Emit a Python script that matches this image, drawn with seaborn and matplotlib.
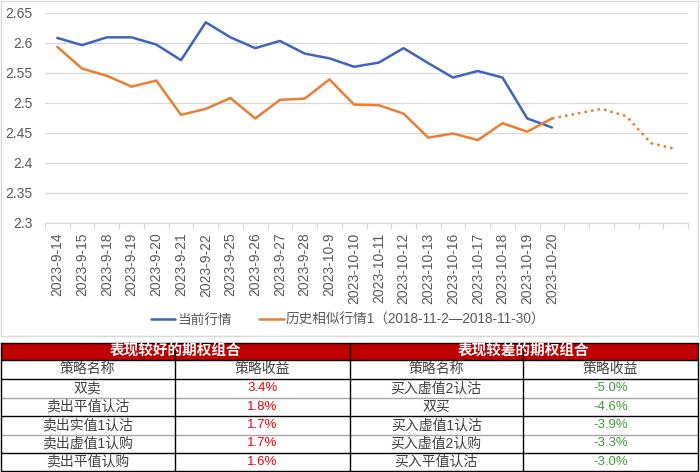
import matplotlib
matplotlib.use("Agg")
import matplotlib.pyplot as plt
import numpy as np
import pandas as pd
import seaborn as sns
from matplotlib.patches import Rectangle

# --- data ---
dates = ["2023-9-14", "2023-9-15", "2023-9-18", "2023-9-19", "2023-9-20",
         "2023-9-21", "2023-9-22", "2023-9-25", "2023-9-26", "2023-9-27",
         "2023-9-28", "2023-10-9", "2023-10-10", "2023-10-11", "2023-10-12",
         "2023-10-13", "2023-10-16", "2023-10-17", "2023-10-18", "2023-10-19",
         "2023-10-20"]
n_future = 5  # empty categories for the projection

current = [2.608, 2.596, 2.609, 2.609, 2.597, 2.571, 2.634, 2.609, 2.591,
           2.603, 2.582, 2.574, 2.560, 2.567, 2.591, 2.566, 2.542, 2.553,
           2.542, 2.474, 2.459]
history = [2.593, 2.557, 2.545, 2.527, 2.537, 2.480, 2.490, 2.508, 2.474,
           2.505, 2.507, 2.539, 2.497, 2.496, 2.482, 2.442, 2.449, 2.438,
           2.466, 2.452, 2.474]
history_proj = [2.474, 2.482, 2.490, 2.478, 2.433, 2.423]

label_current = "当前行情"
label_history = "历史相似行情1（2018-11-2—2018-11-30）"

good_title = "表现较好的期权组合"
bad_title = "表现较差的期权组合"
col_names = ["策略名称", "策略收益"]
good_names = ["双卖", "卖出平值认沽", "卖出实值1认沽", "卖出虚值1认购", "卖出平值认购"]
good_returns = ["3.4%", "1.8%", "1.7%", "1.7%", "1.6%"]
bad_names = ["买入虚值2认沽", "双买", "买入虚值1认沽", "买入虚值2认购", "买入平值认沽"]
bad_returns = ["-5.0%", "-4.6%", "-3.9%", "-3.3%", "-3.0%"]

# --- style ---
sns.set_theme(style="white")
plt.rcParams["font.family"] = ["Liberation Sans", "Noto Sans CJK SC", "DejaVu Sans"]

BLUE = "#3F64C0"
ORANGE = "#ED7D31"
GRID = "#D9D9D9"
TXT = "#595959"

fig = plt.figure(figsize=(7, 4.72), dpi=100)
ax = fig.add_axes([45 / 700, 1 - 223 / 472, 643 / 700, 210.3 / 472])

n = len(dates) + n_future
x_all = np.arange(n)
df_cur = pd.DataFrame({"x": x_all[:len(current)], "y": current})
df_his = pd.DataFrame({"x": x_all[:len(history)], "y": history})
df_proj = pd.DataFrame({"x": x_all[len(history) - 1:len(history) - 1 + len(history_proj)],
                        "y": history_proj})

sns.lineplot(data=df_cur, x="x", y="y", ax=ax, color=BLUE, linewidth=1.8,
             label=label_current)
sns.lineplot(data=df_his, x="x", y="y", ax=ax, color=ORANGE, linewidth=1.8,
             label=label_history)
sns.lineplot(data=df_proj, x="x", y="y", ax=ax, color=ORANGE, linewidth=1.8,
             linestyle=":", label="_nolegend_")

ax.set_xlim(-0.5, n - 0.5)
ax.set_ylim(2.3, 2.65)
yt = np.round(np.arange(2.3, 2.651, 0.05), 2)
ax.set_yticks(yt)
ax.set_yticklabels([f"{v:g}" for v in yt])
ax.set_xticks(x_all)
ax.set_xticklabels(dates + [""] * n_future, rotation=90)
ax.set_xticks(np.arange(-0.5, n), minor=True)
ax.tick_params(axis="x", which="major", length=0, pad=7, labelsize=10, colors=TXT)
ax.tick_params(axis="x", which="minor", length=4, width=0.8, color=GRID, bottom=True)
ax.tick_params(axis="y", length=0, pad=9, labelsize=10, colors=TXT)
ax.set_xlabel("")
ax.set_ylabel("")
ax.grid(axis="y", color=GRID, linewidth=0.9)
ax.grid(axis="x", visible=False)
for s in ["left", "right", "top"]:
    ax.spines[s].set_visible(False)
ax.spines["bottom"].set_color(GRID)
ax.spines["bottom"].set_linewidth(0.9)

if ax.get_legend() is not None:
    ax.get_legend().remove()
handles, labels = ax.get_legend_handles_labels()
fig.legend(handles, labels, loc="center", bbox_to_anchor=(0.497, 1 - 320 / 472),
           ncol=2, frameon=False, fontsize=9.8, labelcolor=TXT,
           handlelength=1.8, handletextpad=0.15, columnspacing=2.0)

# --- overlay axes in pixel coordinates for the border and the table ---
ov = fig.add_axes([0, 0, 1, 1], facecolor="none")
ov.set_xlim(0, 700)
ov.set_ylim(472, 0)
ov.axis("off")
ov.add_patch(Rectangle((0.5, 0.5), 697.5, 335.5, fill=False, edgecolor=GRID, linewidth=1))

top, head_bot = 343, 360
row_edges = [360, 379, 397.5, 416, 434.5, 452.5, 471]
x_edges = [0.5, 175, 349.5, 523, 698]

ov.add_patch(Rectangle((0.5, top), 697.5, head_bot - top, facecolor="#C00000",
                       edgecolor="none"))
ov.text(175, (top + head_bot) / 2, good_title, color="white", fontsize=10.5,
        fontweight="bold", ha="center", va="center")
ov.text(523, (top + head_bot) / 2, bad_title, color="white", fontsize=10.5,
        fontweight="bold", ha="center", va="center")

# horizontal rules
gray_rows = {397.5, 434.5}
ov.plot([0.5, 698], [top, top], color="black", lw=1)
for y in row_edges:
    c = "#A6A6A6" if y in gray_rows else "black"
    ov.plot([0.5, 698], [y, y], color=c, lw=1)
# vertical rules
for x in x_edges:
    ov.plot([x, x], [top, 471], color="black", lw=1)

cx = [(x_edges[i] + x_edges[i + 1]) / 2 for i in range(4)]
ymid = [(row_edges[i] + row_edges[i + 1]) / 2 for i in range(len(row_edges) - 1)]
body = "#404040"
for j, name in enumerate(col_names):
    ov.text(cx[j], ymid[0], name, ha="center", va="center", fontsize=10, color=body)
    ov.text(cx[j + 2], ymid[0], name, ha="center", va="center", fontsize=10, color=body)
for i in range(len(good_names)):
    y = ymid[i + 1]
    ov.text(cx[0], y, good_names[i], ha="center", va="center", fontsize=10, color=body)
    ov.text(cx[1], y, good_returns[i], ha="center", va="center", fontsize=9.5, color="#FF0000")
    ov.text(cx[2], y, bad_names[i], ha="center", va="center", fontsize=10, color=body)
    ov.text(cx[3], y, bad_returns[i], ha="center", va="center", fontsize=9.5, color="#3E9E3E")

fig.savefig("out.png", dpi=100)
